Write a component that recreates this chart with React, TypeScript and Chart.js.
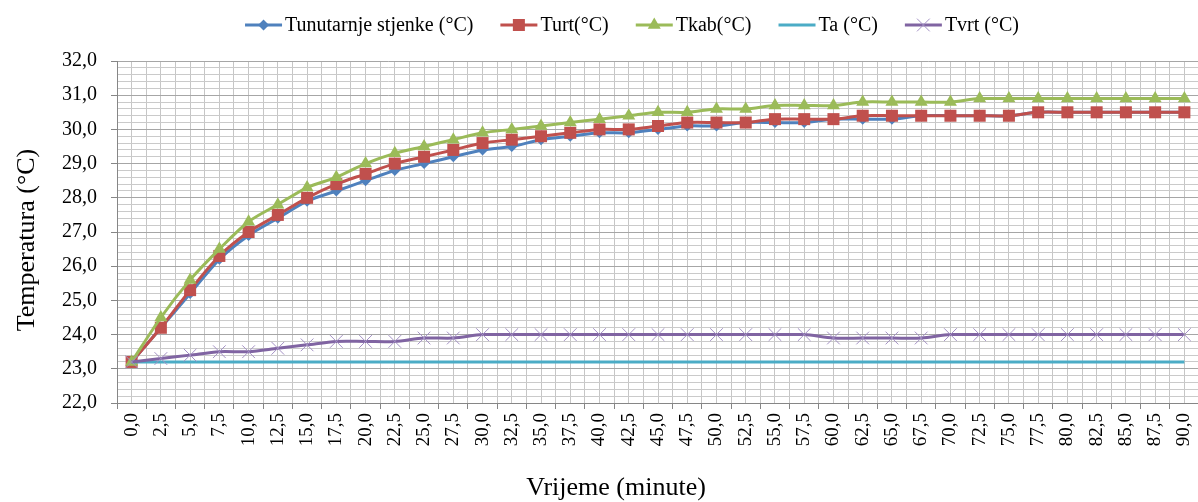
import React, { useEffect, useRef } from 'react';
import { Chart, registerables } from 'chart.js';

Chart.register(...registerables);

const minutes = [0, 2.5, 5, 7.5, 10, 12.5, 15, 17.5, 20, 22.5, 25, 27.5, 30, 32.5, 35, 37.5, 40, 42.5, 45, 47.5, 50, 52.5, 55, 57.5, 60, 62.5, 65, 67.5, 70, 72.5, 75, 77.5, 80, 82.5, 85, 87.5, 90];

const tUnutarnje = [23.2, 24.2, 25.2, 26.2, 26.9, 27.4, 27.9, 28.2, 28.5, 28.8, 29.0, 29.2, 29.4, 29.5, 29.7, 29.8, 29.9, 29.9, 30.0, 30.1, 30.1, 30.2, 30.2, 30.2, 30.3, 30.3, 30.3, 30.4, 30.4, 30.4, 30.4, 30.5, 30.5, 30.5, 30.5, 30.5, 30.5];
const tUrt = [23.2, 24.2, 25.3, 26.3, 27.0, 27.5, 28.0, 28.4, 28.7, 29.0, 29.2, 29.4, 29.6, 29.7, 29.8, 29.9, 30.0, 30.0, 30.1, 30.2, 30.2, 30.2, 30.3, 30.3, 30.3, 30.4, 30.4, 30.4, 30.4, 30.4, 30.4, 30.5, 30.5, 30.5, 30.5, 30.5, 30.5];
const tKab = [23.2, 24.5, 25.6, 26.5, 27.3, 27.8, 28.3, 28.6, 29.0, 29.3, 29.5, 29.7, 29.9, 30.0, 30.1, 30.2, 30.3, 30.4, 30.5, 30.5, 30.6, 30.6, 30.7, 30.7, 30.7, 30.8, 30.8, 30.8, 30.8, 30.9, 30.9, 30.9, 30.9, 30.9, 30.9, 30.9, 30.9];
const tA = [23.2, 23.2, 23.2, 23.2, 23.2, 23.2, 23.2, 23.2, 23.2, 23.2, 23.2, 23.2, 23.2, 23.2, 23.2, 23.2, 23.2, 23.2, 23.2, 23.2, 23.2, 23.2, 23.2, 23.2, 23.2, 23.2, 23.2, 23.2, 23.2, 23.2, 23.2, 23.2, 23.2, 23.2, 23.2, 23.2, 23.2];
const tVrt = [23.2, 23.3, 23.4, 23.5, 23.5, 23.6, 23.7, 23.8, 23.8, 23.8, 23.9, 23.9, 24.0, 24.0, 24.0, 24.0, 24.0, 24.0, 24.0, 24.0, 24.0, 24.0, 24.0, 24.0, 23.9, 23.9, 23.9, 23.9, 24.0, 24.0, 24.0, 24.0, 24.0, 24.0, 24.0, 24.0, 24.0];

const seriesLabels = ['Tunutarnje stjenke (°C)', 'Turt(°C)', 'Tkab(°C)', 'Ta (°C)', 'Tvrt (°C)'];
const seriesColors = ['#4F81BD', '#C0504D', '#9BBB59', '#4BACC6', '#8064A2'];
const markerColors = ['#4F81BD', '#C0504D', '#9BBB59', '#4BACC6', '#A390C4'];
const markerStyles = ['rectRot', 'rect', 'triangle', false, 'crossRot'];
const markerRadius = [5.5, 8.5, 7.5, 0, 9];

const yAxisTitle = 'Temperatura (°C)';
const xAxisTitle = 'Vrijeme (minute)';
const yMin = 22;
const yMax = 32;
const yStep = 0.2;
const xStep = 2.5;

const FONT = "'Liberation Serif', 'Times New Roman', serif";

function fmt(v: number) {
  return v.toFixed(1).replace('.', ',');
}

function drawMarker(ctx: CanvasRenderingContext2D, style: any, x: number, y: number, r: number, color: string) {
  if (!style) return;
  ctx.save();
  ctx.fillStyle = color;
  ctx.strokeStyle = color;
  ctx.beginPath();
  if (style === 'rectRot') {
    ctx.moveTo(x, y - r);
    ctx.lineTo(x + r, y);
    ctx.lineTo(x, y + r);
    ctx.lineTo(x - r, y);
    ctx.closePath();
    ctx.fill();
  } else if (style === 'rect') {
    const s = r * Math.SQRT1_2;
    ctx.rect(x - s, y - s, 2 * s, 2 * s);
    ctx.fill();
  } else if (style === 'triangle') {
    const h = r * Math.sqrt(3) / 2;
    ctx.moveTo(x, y - r);
    ctx.lineTo(x + h, y + r / 2);
    ctx.lineTo(x - h, y + r / 2);
    ctx.closePath();
    ctx.fill();
  } else if (style === 'crossRot') {
    const s = r * Math.SQRT1_2;
    ctx.lineWidth = 1;
    ctx.moveTo(x - s, y - s);
    ctx.lineTo(x + s, y + s);
    ctx.moveTo(x + s, y - s);
    ctx.lineTo(x - s, y + s);
    ctx.stroke();
  }
  ctx.restore();
}

const decorPlugin = {
  id: 'excelDecor',
  afterDraw(chart: any) {
    const ctx: CanvasRenderingContext2D = chart.ctx;
    ctx.save();
    ctx.font = `20px ${FONT}`;
    const lineLen = 37;
    const gapText = 3;
    const gapItem = 27;
    const widths = seriesLabels.map((t) => ctx.measureText(t).width);
    const total = widths.reduce((s, w) => s + lineLen + gapText + w, 0) + gapItem * (seriesLabels.length - 1);
    let x = 632 - total / 2;
    const y = 25;
    seriesLabels.forEach((label, i) => {
      ctx.strokeStyle = seriesColors[i];
      ctx.lineWidth = 3;
      ctx.beginPath();
      ctx.moveTo(x, y);
      ctx.lineTo(x + lineLen, y);
      ctx.stroke();
      drawMarker(ctx, markerStyles[i], x + lineLen / 2, y, markerRadius[i], markerColors[i]);
      ctx.fillStyle = '#000';
      ctx.textBaseline = 'middle';
      ctx.textAlign = 'left';
      ctx.fillText(label, x + lineLen + gapText, y + 1);
      x += lineLen + gapText + widths[i] + gapItem;
    });
    ctx.font = `26px ${FONT}`;
    ctx.fillStyle = '#000';
    ctx.textAlign = 'center';
    ctx.textBaseline = 'middle';
    ctx.fillText(xAxisTitle, 616, 488);
    ctx.translate(27, 240);
    ctx.rotate(-Math.PI / 2);
    ctx.fillText(yAxisTitle, 0, 0);
    ctx.restore();
  },
};

function isMultiple(v: number, step: number) {
  const q = v / step;
  return Math.abs(q - Math.round(q)) < 1e-6;
}

export default function App() {
  const canvasRef = useRef<HTMLCanvasElement | null>(null);

  useEffect(() => {
    if (!canvasRef.current) return;
    const seriesValues = [tUnutarnje, tUrt, tKab, tA, tVrt];
    const datasets = seriesValues.map((vals, i) => ({
      label: seriesLabels[i],
      data: minutes.map((m, j) => ({ x: m, y: vals[j] })),
      borderColor: seriesColors[i],
      backgroundColor: markerColors[i],
      borderWidth: 3,
      pointStyle: markerStyles[i] as any,
      pointRadius: markerRadius[i],
      pointBackgroundColor: markerColors[i],
      pointBorderColor: markerColors[i],
      pointBorderWidth: markerStyles[i] === 'crossRot' ? 1 : 0,
      tension: 0.3,
      order: seriesValues.length - i,
    }));

    const chart = new Chart(canvasRef.current, {
      type: 'line',
      data: { datasets },
      plugins: [decorPlugin],
      options: {
        animation: false,
        responsive: false,
        layout: { padding: { top: 61, right: 0, left: 0, bottom: 0 } },
        plugins: {
          legend: { display: false },
          tooltip: { enabled: false },
        },
        scales: {
          x: {
            type: 'linear',
            position: 'bottom',
            min: -xStep / 2,
            max: minutes[minutes.length - 1] + xStep / 2,
            afterFit: (scale: any) => {
              scale.height = 99;
              scale.paddingLeft = 0;
              scale.paddingRight = 0;
            },
            ticks: {
              stepSize: xStep / 2,
              autoSkip: false,
              maxTicksLimit: 1000,
              minRotation: 90,
              maxRotation: 90,
              padding: 4,
              color: '#000',
              font: { family: FONT, size: 19 },
              callback: (v: any) => (isMultiple(Number(v), xStep) && Number(v) >= 0 ? fmt(Number(v)) : ''),
            },
            grid: {
              color: '#C6C6C6',
              lineWidth: 1,
              tickLength: 6,
              tickColor: (c: any) => (c.tick && !isMultiple(c.tick.value, xStep) ? '#868686' : 'rgba(0,0,0,0)'),
            },
            border: { color: '#868686', width: 1 },
          },
          y: {
            type: 'linear',
            min: yMin,
            max: yMax,
            afterFit: (scale: any) => {
              scale.width = 117;
              scale.paddingTop = 0;
              scale.paddingBottom = 0;
            },
            ticks: {
              stepSize: yStep,
              autoSkip: false,
              maxTicksLimit: 1000,
              padding: 14,
              color: '#000',
              font: { family: FONT, size: 20 },
              callback: (v: any) => (isMultiple(Number(v), 1) ? fmt(Number(v)) : ''),
            },
            grid: {
              color: (c: any) => (c.tick && isMultiple(c.tick.value, 1) ? '#A6A6A6' : '#CACACA'),
              lineWidth: 1,
              tickLength: 6,
              tickColor: (c: any) => (c.tick && isMultiple(c.tick.value, 1) ? '#868686' : 'rgba(0,0,0,0)'),
            },
            border: { color: '#868686', width: 1 },
          },
        },
      },
    });
    return () => chart.destroy();
  }, []);

  return (
    <div style={{ position: 'fixed', left: 0, top: 0, width: 1198, height: 502, overflow: 'hidden', background: '#fff' }}>
      <canvas ref={canvasRef} width={1209} height={502} style={{ display: 'block' }} />
    </div>
  );
}
